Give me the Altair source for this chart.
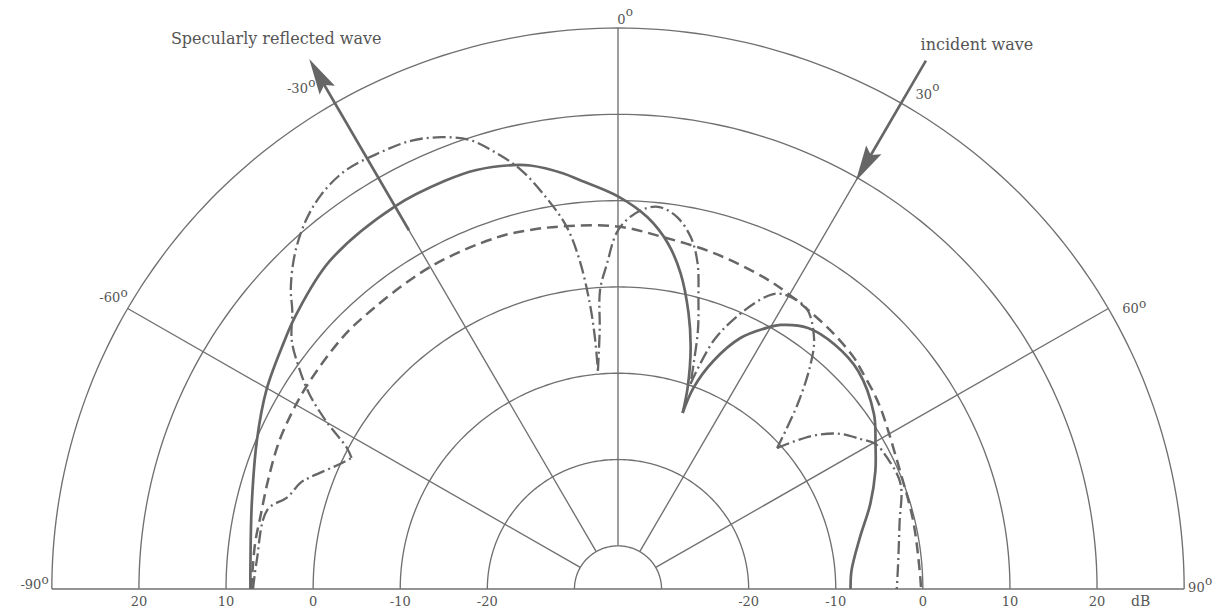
import numpy as np
import pandas as pd
import altair as alt

# Scattered-field patterns: azimuth in degrees from broadside (negative toward the
# specular side) and relative level in dB.
SOLID_ANGLE = [-90, -86, -76.7, -67.4, -60.2, -53.5, -49.5, -41, -30, -22.7,
               -18.5, -13.9, -11.6, -7.5, -5.3, 0, 4.5, 8.1, 11.1, 14.2,
               16.6, 18.9, 20.0, 20.4, 22.5, 25.8, 29.6, 31.4, 35.8, 41.2,
               47.5, 55.4, 60.4, 65.2, 71.2, 77.9, 85.4, 90]
SOLID_DB = [7.2, 7.3, 8.2, 9.9, 11.5, 12.8, 13.7, 15.4, 16.2, 16.3,
            16.2, 15.6, 15.1, 13.6, 12.6, 10.5, 8.2, 5.5, 2.3, -2.0,
            -5.8, -10.3, -13.3, -10.1, -6.4, -2.7, -0.15, 0.85, 2.3, 2.7,
            2.4, 0.7, -1.0, -2.45, -4.4, -6.6, -8.1, -8.3]
SOLID_NULLS = [(20.0, -13.3)]

DASHED_ANGLE = [-90, -82.8, -78.6, -72.7, -66.2, -59.9, -55.8, -47.9, -43.5, -30.3,
                -19, -13.6, -8.6, 0, 7.3, 15.8, 24.9, 29.7, 36.9, 41,
                45.4, 47.9, 52.5, 55.9, 67.1, 76.8, 86.4, 90]
DASHED_DB = [7.1, 7.0, 6.9, 7.1, 7.5, 7.7, 7.8, 8.0, 8.0, 8.1,
             8.05, 7.8, 7.5, 7.0, 6.1, 5.45, 4.8, 4.4, 3.8, 3.5,
             3.1, 2.7, 2.1, 1.6, 0.15, -0.2, -0.3, -0.2]
DASHED_NULLS = []

DASHDOT_ANGLE = [-90, -85.4, -77.2, -74.3, -71.4, -69.9, -65.6, -63.6, -62.3, -59.9,
                 -57.5, -55.1, -52.5, -49.2, -47.2, -43.7, -40.1, -36.7, -32.9, -28.6,
                 -24.5, -21.2, -18.2, -15.5, -12.9, -10.3, -8.0, -6.6, -5.6, -5.2,
                 -5.2, -4.0, -3.4, -1.9, -0.2, 1.8, 4.4, 6.3, 9.0, 11.6,
                 13.6, 15.3, 17.0, 18.4, 19.3, 20.9, 23.8, 26.9, 28.7, 33.5,
                 37.7, 40.3, 43.9, 48.2, 51.3, 54.5, 58.0, 60.4, 63.9, 69.4,
                 76.8, 86.1, 90]
DASHDOT_DB = [6.9, 6.6, 6.3, 4.4, 3.5, 2.65, 0.05, -0.85, 0.15, 3.7,
              7.0, 9.6, 12.2, 14.4, 16.2, 18.7, 20.7, 22.0, 22.7, 22.5,
              22.1, 21.15, 19.8, 17.45, 14.8, 11.1, 7.4, 3.35, -1.7, -5.7,
              -9.6, -4.9, -0.3, 2.75, 6.3, 8.1, 9.3, 9.5, 8.6, 6.6,
              3.85, 0.0, -3.6, -7.5, -9.8, -4.15, -0.1, 3.1, 4.0, 4.1,
              1.8, -0.8, -5.25, -10.5, -6.7, -4.0, -2.2, -1.0, -0.55, -0.35,
              -1.8, -2.8, -3.0]
DASHDOT_NULLS = [(-63.6, -0.85), (-5.2, -9.6), (19.3, -9.8), (48.2, -10.5)]

# Polar grid
DB_CENTRE = -35                      # level plotted at the pole
RING_DB = [-30, -20, -10, 0, 10, 20, 30]
SPOKE_ANGLE = [-60, -30, 0, 30, 60]
TICK_DB = [20, 10, 0, -10, -20]
ANGLE_TICKS = [-90, -60, -30, 0, 30, 60, 90]

INCIDENT_ANGLE = 30
SPECULAR_ANGLE = -30

W, H = 1217, 614
INK = "#666666"
GRID = "#707070"
TEXT = "#555555"
FONT = "DejaVu Serif"

XS = alt.Scale(domain=[-70.95, 68.77], nice=False, zero=False)
YS = alt.Scale(domain=[-2.897, 68.25], nice=False, zero=False)
X = alt.X("px:Q", scale=XS, axis=None)
Y = alt.Y("py:Q", scale=YS, axis=None)


def polar(frame):
    """Chart whose rows (angle, db) are mapped to cartesian px/py."""
    return alt.Chart(frame).transform_calculate(
        rho=f"datum.db - ({DB_CENTRE})",
        px="datum.rho * sin(datum.angle * PI / 180)",
        py="datum.rho * cos(datum.angle * PI / 180)",
    )


def trace(name, angles, levels, nulls):
    """Split a pattern into branches at its sharp nulls."""
    rows, seg = [], 0
    for a, v in zip(angles, levels):
        rows.append({"seg": f"{name}{seg}", "k": len(rows), "angle": a, "db": v})
        if (a, v) in nulls:
            seg += 1
            rows.append({"seg": f"{name}{seg}", "k": len(rows), "angle": a, "db": v})
    return pd.DataFrame(rows)


def point(angle, db):
    return polar(pd.DataFrame({"angle": [angle], "db": [db]}))


layers = []

# grid: rings, spokes and the base line
grid_rows = []
arc = np.arange(-90, 90.5, 1.0)
for d in RING_DB:
    for k, a in enumerate(arc):
        grid_rows.append({"id": f"r{d}", "k": k, "angle": a, "db": d})
for a in SPOKE_ANGLE:
    grid_rows.append({"id": f"s{a}", "k": 0, "angle": a, "db": RING_DB[0]})
    grid_rows.append({"id": f"s{a}", "k": 1, "angle": a, "db": RING_DB[-1]})
grid_rows.append({"id": "base", "k": 0, "angle": -90, "db": RING_DB[-1]})
grid_rows.append({"id": "base", "k": 1, "angle": 90, "db": RING_DB[-1]})
layers.append(
    polar(pd.DataFrame(grid_rows))
    .mark_line(color=GRID, strokeWidth=1.35)
    .encode(x=X, y=Y, detail="id:N", order="k:Q")
)

# wave direction arrows
shafts = pd.DataFrame([
    {"id": "inc", "k": 0, "angle": INCIDENT_ANGLE, "db": 35.7},
    {"id": "inc", "k": 1, "angle": INCIDENT_ANGLE, "db": 22.5},
    {"id": "spec", "k": 0, "angle": SPECULAR_ANGLE, "db": 13.0},
    {"id": "spec", "k": 1, "angle": SPECULAR_ANGLE, "db": 33.0},
])
layers.append(
    polar(shafts).mark_line(color=INK, strokeWidth=2.6)
    .encode(x=X, y=Y, detail="id:N", order="k:Q")
)
HEAD = "M0,-1L0.44,0.8L0,0.5L-0.44,0.8Z"
layers.append(
    point(INCIDENT_ANGLE, 21.9).mark_point(
        shape=HEAD, size=1600, filled=True, color=INK, opacity=1,
        strokeWidth=0, angle=210).encode(x=X, y=Y)
)
layers.append(
    point(SPECULAR_ANGLE, 33.6).mark_point(
        shape=HEAD, size=1600, filled=True, color=INK, opacity=1,
        strokeWidth=0, angle=330).encode(x=X, y=Y)
)

# patterns
layers.append(
    polar(trace("s", SOLID_ANGLE, SOLID_DB, SOLID_NULLS))
    .mark_line(color=INK, strokeWidth=2.7, interpolate="catmull-rom")
    .encode(x=X, y=Y, detail="seg:N", order="k:Q")
)
layers.append(
    polar(trace("d", DASHED_ANGLE, DASHED_DB, DASHED_NULLS))
    .mark_line(color=INK, strokeWidth=2.5, strokeDash=[11, 6], interpolate="catmull-rom")
    .encode(x=X, y=Y, detail="seg:N", order="k:Q")
)
layers.append(
    polar(trace("c", DASHDOT_ANGLE, DASHDOT_DB, DASHDOT_NULLS))
    .mark_line(color=INK, strokeWidth=2.3, strokeDash=[13, 4, 2, 4], interpolate="catmull-rom")
    .encode(x=X, y=Y, detail="seg:N", order="k:Q")
)

# dB scale along the base line
ticks = pd.DataFrame({
    "angle": [-90] * len(TICK_DB) + [90] * len(TICK_DB),
    "db": TICK_DB + TICK_DB[::-1],
})
ticks["label"] = ticks["db"].astype(str)
layers.append(
    polar(ticks).mark_text(font=FONT, fontSize=13, color=TEXT, align="center",
                           baseline="alphabetic", dy=17)
    .encode(x=X, y=Y, text="label:N")
)
layers.append(
    point(90, 25).mark_text(text="dB", font=FONT, fontSize=14, color=TEXT,
                            align="center", baseline="alphabetic", dy=17)
    .encode(x=X, y=Y)
)

# azimuth labels at the ends of the spokes: (dx, dy of number, dy of degree mark)
ANGLE_LABEL_OFFSET = {
    -90: (-3, 0, -5),
    -60: (0, -6.5, -11.5),
    -30: (-19.5, -10, -16),
    0: (15, -4, -12),
    30: (38.5, -4, -12),
    60: (38, 4.5, -1),
    90: (28, 3, -4),
}
for a in ANGLE_TICKS:
    dx, dyn, dyo = ANGLE_LABEL_OFFSET[a]
    base = point(a, RING_DB[-1])
    layers.append(
        base.mark_text(text=str(a), font=FONT, fontSize=13, color=TEXT, align="right",
                       baseline="alphabetic", dx=dx - 7.5, dy=dyn).encode(x=X, y=Y)
    )
    layers.append(
        base.mark_text(text="o", font=FONT, fontSize=12, color=TEXT, align="right",
                       baseline="alphabetic", dx=dx, dy=dyo).encode(x=X, y=Y)
    )

# arrow captions
layers.append(
    point(SPECULAR_ANGLE, 35.9).mark_text(
        text="Specularly reflected wave", font=FONT, fontSize=16, color=TEXT,
        align="center", baseline="alphabetic", dx=-33, dy=-15).encode(x=X, y=Y)
)
layers.append(
    point(INCIDENT_ANGLE, 35.7).mark_text(
        text="incident wave", font=FONT, fontSize=16, color=TEXT,
        align="center", baseline="alphabetic", dx=51, dy=-11).encode(x=X, y=Y)
)

chart = (
    alt.layer(*layers)
    .properties(width=W, height=H, padding=0, background="white",
                autosize=alt.AutoSizeParams(type="none"))
    .configure_view(stroke=None)
)

chart.save("out.html", embed_options={"renderer": "svg", "actions": False})
